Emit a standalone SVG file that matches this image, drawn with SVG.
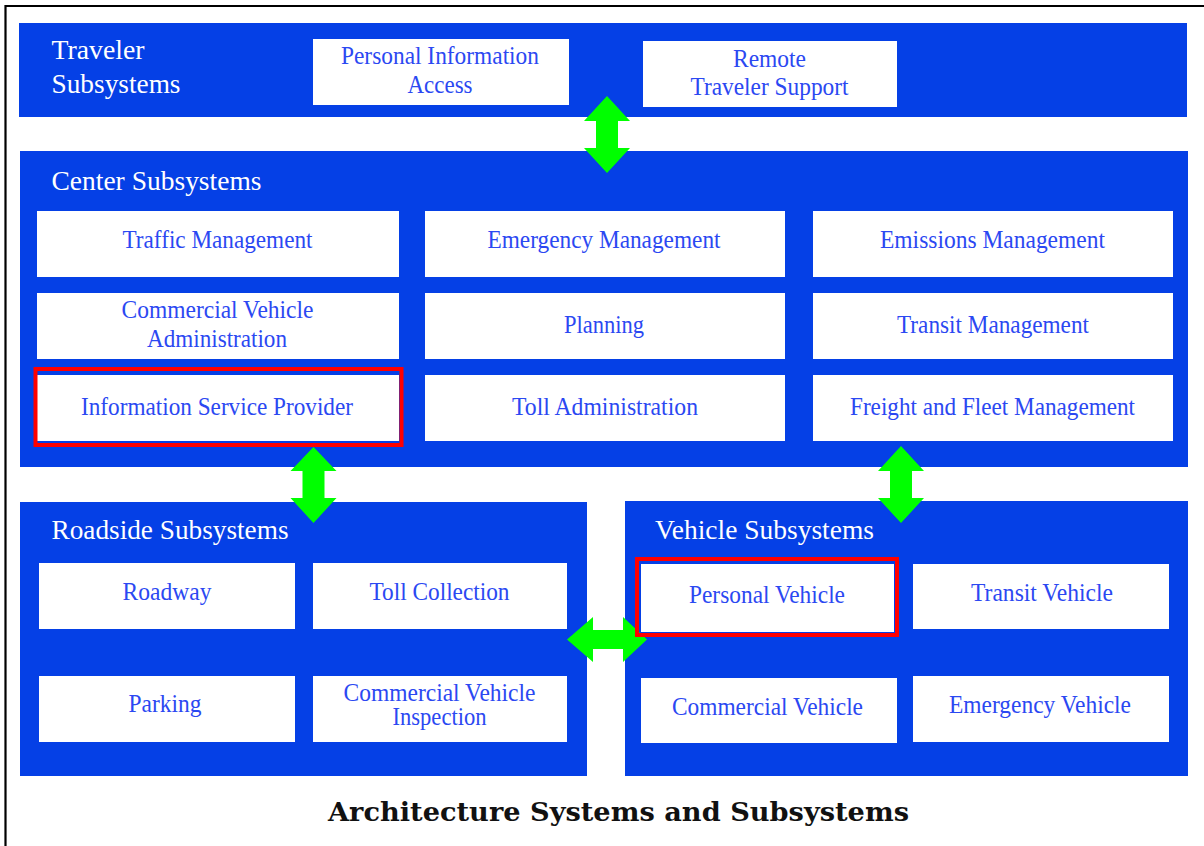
<svg xmlns="http://www.w3.org/2000/svg" width="1204" height="846" viewBox="0 0 1204 846">
<style>
.panel{fill:#0540E6}
.box{fill:#ffffff}
.hl{fill:none;stroke:#ff0000;stroke-width:4}
.title{font-family:"Liberation Serif","Times New Roman",serif;font-size:28px;fill:#ffffff}
.lbl{font-family:"Liberation Serif","Times New Roman",serif;font-size:25px;fill:#2b48f2;text-anchor:middle}
.cap{font-family:"DejaVu Serif","Liberation Serif",serif;font-size:26px;font-weight:bold;fill:#111111}
.arrow{fill:#00ff00}
</style>
<rect width="1204" height="846" fill="#ffffff"/>
<path d="M5.5 846 V6 H1204" fill="none" stroke="#000000" stroke-width="2.2"/>

<g id="traveler-subsystems">
<rect class="panel" x="19" y="23" width="1168" height="94"/>
<text class="title" x="51.5" y="58.5" textLength="93" lengthAdjust="spacingAndGlyphs">Traveler</text>
<text class="title" x="51.5" y="92.5" textLength="129" lengthAdjust="spacingAndGlyphs">Subsystems</text>
</g>
<g id="center-subsystems">
<rect class="panel" x="20" y="151" width="1168" height="316"/>
<text class="title" x="51.5" y="190" textLength="210" lengthAdjust="spacingAndGlyphs">Center Subsystems</text>
</g>
<g id="roadside-subsystems">
<rect class="panel" x="20" y="502" width="567" height="274"/>
<text class="title" x="51.5" y="538.5" textLength="237" lengthAdjust="spacingAndGlyphs">Roadside Subsystems</text>
</g>
<g id="vehicle-subsystems">
<rect class="panel" x="625" y="501" width="563" height="275"/>
<text class="title" x="655" y="538.5" textLength="219" lengthAdjust="spacingAndGlyphs">Vehicle Subsystems</text>
</g>

<g id="connectors">
<polygon class="arrow" points="607,96 630,121 618,121 618,148 630,148 607,173 584,148 596,148 596,121 584,121"/>
<polygon class="arrow" points="313.5,447 336.5,471 324.5,471 324.5,498 336.5,498 313.5,523 290.5,498 302.5,498 302.5,471 290.5,471"/>
<polygon class="arrow" points="901,446 924,471 912,471 912,498 924,498 901,523 878,498 890,498 890,471 878,471"/>
<polygon class="arrow" points="567,639.5 593,617 593,630 623,630 623,617 647,639.5 623,662 623,649 593,649 593,662"/>
</g>

<g id="personal-information-access">
<rect class="box" x="313" y="39" width="256" height="66"/>
<text class="lbl" x="440" y="64" textLength="198" lengthAdjust="spacingAndGlyphs">Personal Information</text>
<text class="lbl" x="440" y="93" textLength="65" lengthAdjust="spacingAndGlyphs">Access</text>
</g>
<g id="remote-traveler-support">
<rect class="box" x="643" y="41" width="254" height="66"/>
<text class="lbl" x="769.5" y="66.5" textLength="73" lengthAdjust="spacingAndGlyphs">Remote</text>
<text class="lbl" x="769.5" y="95" textLength="158" lengthAdjust="spacingAndGlyphs">Traveler Support</text>
</g>

<g id="traffic-management">
<rect class="box" x="37" y="211" width="362" height="66"/>
<text class="lbl" x="217.5" y="248" textLength="190" lengthAdjust="spacingAndGlyphs">Traffic Management</text>
</g>
<g id="emergency-management">
<rect class="box" x="425" y="211" width="360" height="66"/>
<text class="lbl" x="604" y="248" textLength="233" lengthAdjust="spacingAndGlyphs">Emergency Management</text>
</g>
<g id="emissions-management">
<rect class="box" x="813" y="211" width="360" height="66"/>
<text class="lbl" x="992.5" y="248" textLength="225" lengthAdjust="spacingAndGlyphs">Emissions Management</text>
</g>
<g id="commercial-vehicle-administration">
<rect class="box" x="37" y="293" width="362" height="66"/>
<text class="lbl" x="217.5" y="318" textLength="192" lengthAdjust="spacingAndGlyphs">Commercial Vehicle</text>
<text class="lbl" x="217" y="346.5" textLength="140" lengthAdjust="spacingAndGlyphs">Administration</text>
</g>
<g id="planning">
<rect class="box" x="425" y="293" width="360" height="66"/>
<text class="lbl" x="604" y="332.5" textLength="80" lengthAdjust="spacingAndGlyphs">Planning</text>
</g>
<g id="transit-management">
<rect class="box" x="813" y="293" width="360" height="66"/>
<text class="lbl" x="993" y="332.5" textLength="192" lengthAdjust="spacingAndGlyphs">Transit Management</text>
</g>
<g id="information-service-provider">
<rect class="box" x="37" y="375" width="362" height="66"/>
<rect class="hl" x="35.5" y="369" width="366" height="76"/>
<text class="lbl" x="217" y="414.5" textLength="272" lengthAdjust="spacingAndGlyphs">Information Service Provider</text>
</g>
<g id="toll-administration">
<rect class="box" x="425" y="375" width="360" height="66"/>
<text class="lbl" x="605" y="414.5" textLength="186" lengthAdjust="spacingAndGlyphs">Toll Administration</text>
</g>
<g id="freight-and-fleet-management">
<rect class="box" x="813" y="375" width="360" height="66"/>
<text class="lbl" x="992.5" y="414.5" textLength="285" lengthAdjust="spacingAndGlyphs">Freight and Fleet Management</text>
</g>

<g id="roadway">
<rect class="box" x="39" y="563" width="256" height="66"/>
<text class="lbl" x="167" y="600" textLength="89" lengthAdjust="spacingAndGlyphs">Roadway</text>
</g>
<g id="toll-collection">
<rect class="box" x="313" y="563" width="254" height="66"/>
<text class="lbl" x="439.5" y="600" textLength="140" lengthAdjust="spacingAndGlyphs">Toll Collection</text>
</g>
<g id="parking">
<rect class="box" x="39" y="676" width="256" height="66"/>
<text class="lbl" x="165" y="712" textLength="73" lengthAdjust="spacingAndGlyphs">Parking</text>
</g>
<g id="commercial-vehicle-inspection">
<rect class="box" x="313" y="676" width="254" height="66"/>
<text class="lbl" x="439.5" y="700.5" textLength="192" lengthAdjust="spacingAndGlyphs">Commercial Vehicle</text>
<text class="lbl" x="439.5" y="725" textLength="94" lengthAdjust="spacingAndGlyphs">Inspection</text>
</g>

<g id="personal-vehicle">
<rect class="box" x="641" y="564" width="253" height="68"/>
<rect class="hl" x="637" y="559" width="260" height="76"/>
<text class="lbl" x="767" y="603" textLength="156" lengthAdjust="spacingAndGlyphs">Personal Vehicle</text>
</g>
<g id="transit-vehicle">
<rect class="box" x="913" y="564" width="256" height="65"/>
<text class="lbl" x="1042" y="601" textLength="142" lengthAdjust="spacingAndGlyphs">Transit Vehicle</text>
</g>
<g id="commercial-vehicle">
<rect class="box" x="641" y="678" width="256" height="65"/>
<text class="lbl" x="767.5" y="715" textLength="191" lengthAdjust="spacingAndGlyphs">Commercial Vehicle</text>
</g>
<g id="emergency-vehicle">
<rect class="box" x="913" y="676" width="256" height="66"/>
<text class="lbl" x="1040" y="713" textLength="182" lengthAdjust="spacingAndGlyphs">Emergency Vehicle</text>
</g>

<text class="cap" x="328" y="821" textLength="581" lengthAdjust="spacingAndGlyphs">Architecture Systems and Subsystems</text>
</svg>
